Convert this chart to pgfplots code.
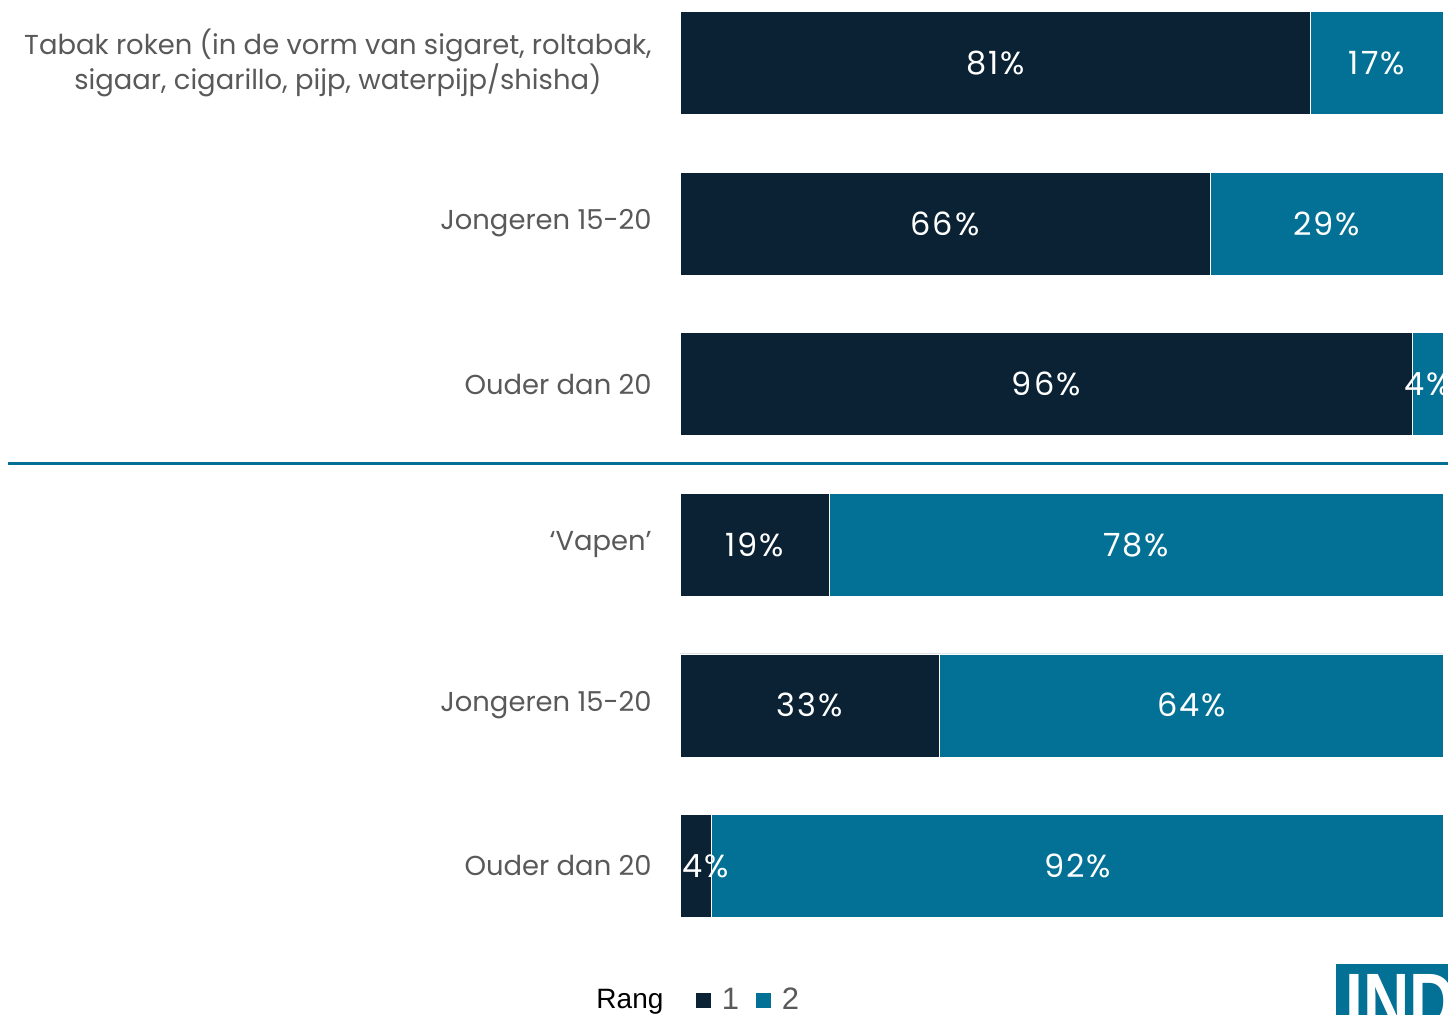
\documentclass[border=0pt]{standalone}
\usepackage{pgfplots}
\usepackage{pgfplotstable}
\pgfplotsset{compat=1.18}
\usepackage{fontspec}
\setmainfont{Poppins}
\newfontfamily\legfont{Liberation Sans}
\newfontfamily\pctfont[LetterSpace=6]{Poppins}
\definecolor{rangone}{HTML}{0A2233}
\definecolor{rangtwo}{HTML}{037195}
\definecolor{labgray}{HTML}{595959}

% values normalised to 100%, label = reported percentage
\pgfplotstableread{
y  a       la
0  82.653  81
1  69.474  66
2  96.000  96
3  19.588  19
4  34.021  33
5  4.167   4
}\rangone
\pgfplotstableread{
y  a       la
0  17.347  17
1  30.526  29
2  4.000   4
3  80.412  78
4  65.979  64
5  95.833  92
}\rangtwo
% label positions (segment centres)
\pgfplotstableread{
y  c      la
0  41.33  81
1  34.74  66
2  48.00  96
3  9.79   19
4  17.01  33
5  3.40   4
0  91.33  17
1  84.74  29
2  98.00  4
3  59.79  78
4  67.01  64
5  52.08  92
}\labels

\begin{document}
\begin{tikzpicture}
\path[use as bounding box] (0,0) rectangle (724bp,507.5bp);
\clip (0,0) rectangle (724bp,507.5bp);
\pgfplotsset{
  commonaxis/.style={
    at={(340bp,0bp)}, anchor=south west,
    scale only axis, width=381.5bp, height=507.5bp,
    xmin=0, xmax=100,
    ymin=-0.392, ymax=5.928, y dir=reverse,
    clip=false,
  }
}
\begin{axis}[
  commonaxis,
  xbar stacked, bar width=51.5bp,
  axis line style={draw=none},
  xtick=\empty,
  ytick={0,1,2,3,4,5},
  yticklabels={{Tabak roken (in de vorm van sigaret, roltabak,\\sigaar, cigarillo, pijp, waterpijp/shisha)},
    Jongeren 15-20, Ouder dan 20, ‘Vapen’, Jongeren 15-20, Ouder dan 20},
  major tick length=0pt,
  yticklabel style={anchor=east, inner sep=0pt, xshift=-14bp, align=center,
     font=\fontsize{13.7bp}{17.5bp}\selectfont, text=labgray},
  legend image code/.code={\fill[#1] (0bp,-4bp) rectangle (8bp,4bp);},
  legend style={draw=none, fill=none, legend columns=-1,
     at={(-0.1152,0.0148)}, anchor=west, inner sep=0pt,
     font=\legfont\fontsize{14bp}{16bp}\selectfont,
     /tikz/every even column/.append style={column sep=6bp}},
]
\addlegendimage{empty legend}
\addlegendentry{Rang\rule{8bp}{0pt}}
\addplot[fill=rangone, draw=white, line width=0.3pt]
  table[x=a, y=y]{\rangone};
\addlegendentry{\hspace{3bp}\textcolor{labgray}{\fontsize{15.5bp}{16bp}\selectfont 1}}
\addplot[fill=rangtwo, draw=white, line width=0.3pt]
  table[x=a, y=y]{\rangtwo};
\addlegendentry{\hspace{3bp}\textcolor{labgray}{\fontsize{15.5bp}{16bp}\selectfont 2}}
\draw[rangtwo, line width=1.5bp] (axis cs:-88.07,2.497) -- (axis cs:101,2.497);
\end{axis}
\begin{axis}[
  commonaxis, hide axis,
  point meta=explicit symbolic,
  nodes near coords={\pgfplotspointmeta\%},
  nodes near coords align={center},
  every node near coord/.append style={anchor=center, text=white, inner sep=0pt,
     font=\pctfont\fontsize{16bp}{18bp}\selectfont},
]
\addplot[only marks, mark=none] table[x=c, y=y, meta=la]{\labels};
\end{axis}
\fill[rangtwo] (668bp,0bp) rectangle (724bp,25.5bp);
\node[anchor=north west, inner sep=0pt, text=white, font=\legfont\bfseries\fontsize{40bp}{40bp}\selectfont, xscale=0.8]
  at (672.5bp,20.5bp) {IND};
\end{tikzpicture}
\end{document}
